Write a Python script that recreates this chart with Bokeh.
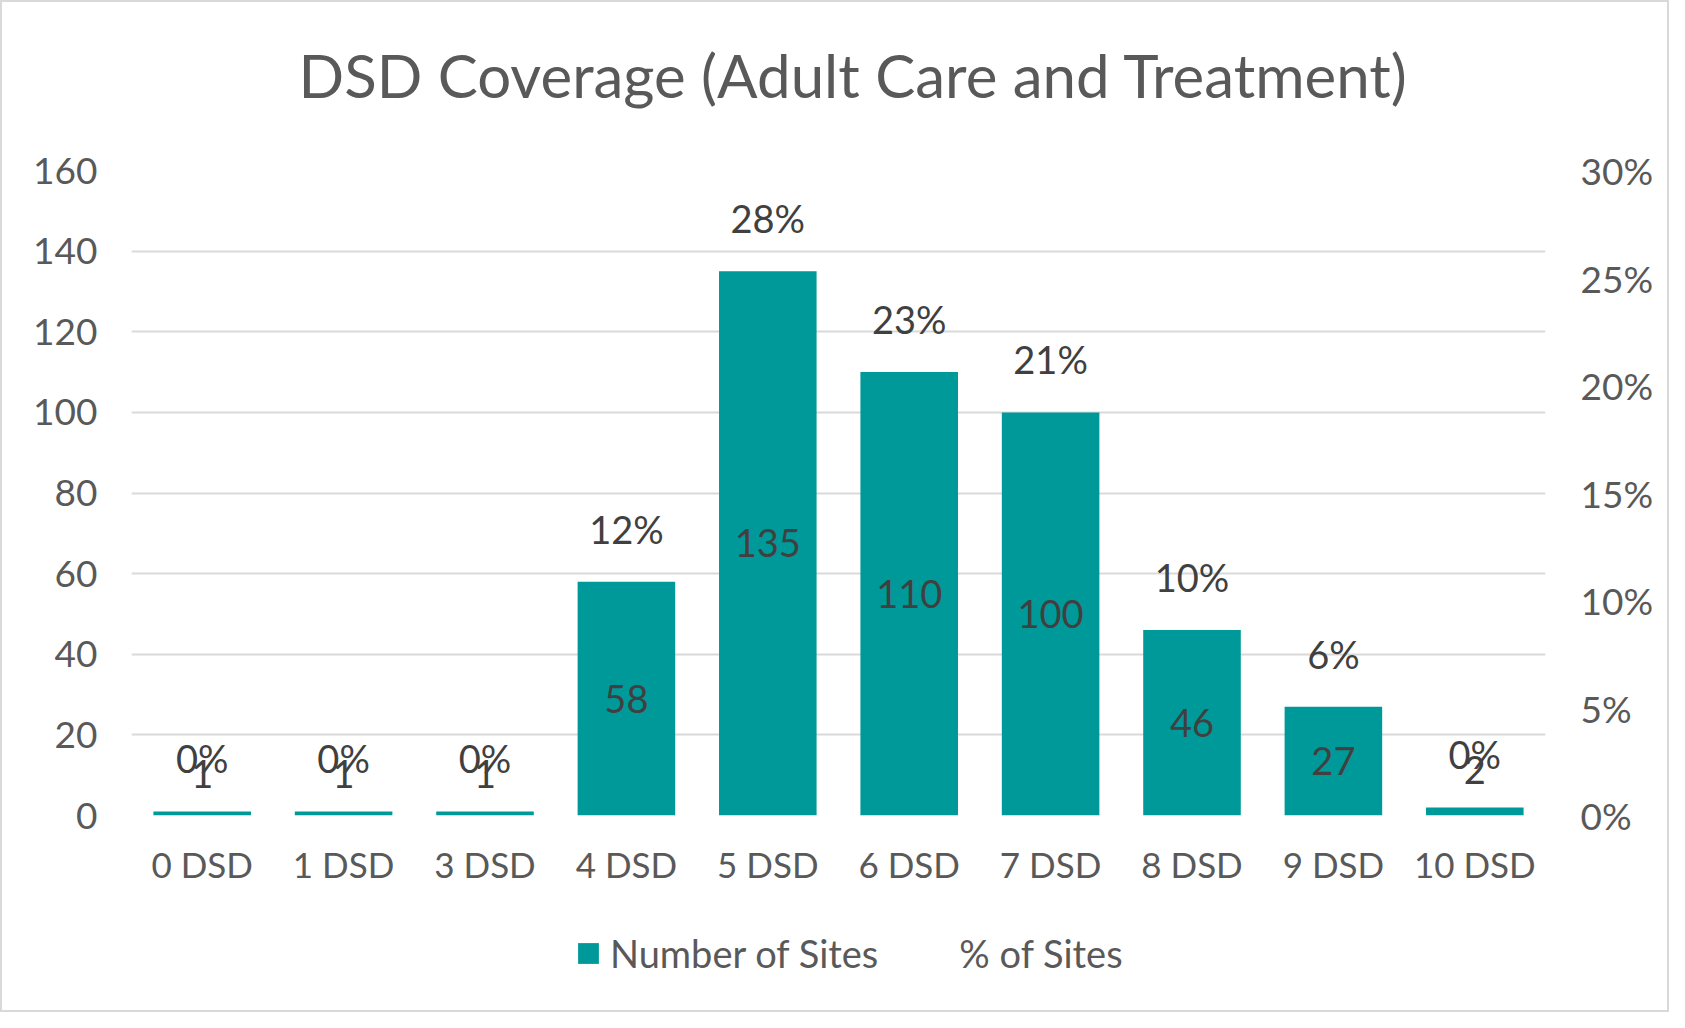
import numpy as np
from bokeh.plotting import figure
from bokeh.layouts import column
from bokeh.models import (ColumnDataSource, Range1d, FactorRange, LinearAxis, FixedTicker,
                          NumeralTickFormatter, Legend, LegendItem, Title)
from bokeh.core.properties import value
from bokeh.embed import file_html
from bokeh.resources import INLINE

# ---- data ----
categories = ["0 DSD", "1 DSD", "3 DSD", "4 DSD", "5 DSD", "6 DSD", "7 DSD", "8 DSD", "9 DSD", "10 DSD"]
num_sites = [1, 1, 1, 58, 135, 110, 100, 46, 27, 2]
pct_sites = [0.00, 0.00, 0.00, 0.12, 0.28, 0.23, 0.21, 0.10, 0.06, 0.00]
left_ticks = [0, 20, 40, 60, 80, 100, 120, 140, 160]
right_ticks = [0.00, 0.05, 0.10, 0.15, 0.20, 0.25, 0.30]

TEAL = "#009999"
GRID = "#d9d9d9"
AXIS_TXT = "#595959"
LBL_TXT = "#404040"
FONT = "Lato"
FS_TICK = "37px"
FS_CAT = "35px"
FS_LBL = "38px"
FS_LEG = "38px"

W = 1665
H_MAIN = 900
H_LEG = 108

p = figure(width=W, height=H_MAIN,
           x_range=FactorRange(*categories, range_padding=0),
           y_range=Range1d(0, 160),
           output_backend="svg", toolbar_location=None,
           min_border_left=129, min_border_right=122,
           min_border_top=168, min_border_bottom=H_MAIN - 813,
           title="DSD Coverage (Adult Care and Treatment)")
p.extra_y_ranges = {"pct": Range1d(0, 0.30)}

p.title.align = "left"
p.title.offset = 167
p.title.text_font = FONT
p.title.text_font_size = "60px"
p.title.text_font_style = "normal"
p.title.text_color = AXIS_TXT
p.title.standoff = 65
# blank spacer between the title and the plot area
p.add_layout(Title(text=" ", text_font_size="2px", standoff=23), "above")

p.outline_line_color = None
p.background_fill_color = "white"
p.border_fill_color = "white"
p.xgrid.grid_line_color = None
p.ygrid.grid_line_color = GRID
p.ygrid.grid_line_width = 2
p.ygrid.ticker = FixedTicker(ticks=left_ticks)

src = ColumnDataSource(dict(cat=categories, n=num_sites, pct=pct_sites,
                            pct_lbl=[f"{round(v * 100)}%" for v in pct_sites]))

bars = p.vbar(x="cat", top="n", width=0.69, source=src, fill_color=TEAL, line_color=None)
pline = p.line(x="cat", y="pct", source=src, y_range_name="pct", line_alpha=0)

# count labels: centered in tall bars, just above very short bars
big = [i for i, v in enumerate(num_sites) if v >= 10]
small = [i for i, v in enumerate(num_sites) if v < 10]
src_big = ColumnDataSource(dict(cat=[categories[i] for i in big],
                                y=[num_sites[i] / 2 for i in big],
                                t=[str(num_sites[i]) for i in big]))
src_small = ColumnDataSource(dict(cat=[categories[i] for i in small],
                                  y=[num_sites[i] for i in small],
                                  t=[str(num_sites[i]) for i in small]))
txt_kw = dict(text_align="center", text_baseline="middle", text_font=value(FONT),
              text_font_size=value(FS_LBL), text_color=LBL_TXT)
p.text(x="cat", y="y", text="t", source=src_big, **txt_kw)
p.text(x="cat", y="y", text="t", source=src_small, y_offset=-37, **txt_kw)
p.text(x="cat", y="n", text="pct_lbl", source=src, y_offset=-53, **txt_kw)

# axes styling
def style_axis(ax, fs):
    ax.axis_line_color = None
    ax.major_tick_line_color = None
    ax.minor_tick_line_color = None
    ax.major_tick_out = 0
    ax.major_tick_in = 0
    ax.major_label_text_font = FONT
    ax.major_label_text_font_size = fs
    ax.major_label_text_color = AXIS_TXT

p.yaxis.ticker = FixedTicker(ticks=left_ticks)
style_axis(p.yaxis[0], FS_TICK)
p.yaxis[0].major_label_standoff = 34
style_axis(p.xaxis[0], FS_CAT)
p.xaxis[0].major_label_standoff = 27

raxis = LinearAxis(y_range_name="pct", ticker=FixedTicker(ticks=right_ticks),
                   formatter=NumeralTickFormatter(format="0%"))
style_axis(raxis, FS_TICK)
raxis.major_label_standoff = 35
p.add_layout(raxis, "right")

# ---- legend strip below the chart ----
lf = figure(width=W, height=H_LEG, x_range=Range1d(0, 1), y_range=Range1d(0, 1),
            output_backend="svg", toolbar_location=None, min_border=0)
lf.axis.visible = False
lf.grid.visible = False
lf.outline_line_color = None
lf.border_fill_color = "white"
# legend-only placeholder glyphs (zero height, nothing visible in the strip)
leg_bar = lf.vbar(x=[0.5], top=[0], width=0.01, fill_color=TEAL, line_color=None)
leg_line = lf.line(x=[0.5, 0.5], y=[0, 0], line_alpha=0)

legend = Legend(items=[LegendItem(label="Number of Sites", renderers=[leg_bar]),
                       LegendItem(label="% of Sites", renderers=[leg_line])],
                orientation="horizontal", location=(444, 34),
                border_line_color=None, background_fill_alpha=0,
                glyph_width=26, glyph_height=26, label_standoff=9, spacing=46,
                label_text_font=FONT, label_text_font_size=FS_LEG, label_text_color=AXIS_TXT,
                margin=0, padding=0)
lf.add_layout(legend, "center")

layout = column(p, lf, spacing=0)
layout.styles = {"border": "2px solid #d9d9d9", "background-color": "white"}

open("out.html", "w").write(file_html(layout, INLINE))
